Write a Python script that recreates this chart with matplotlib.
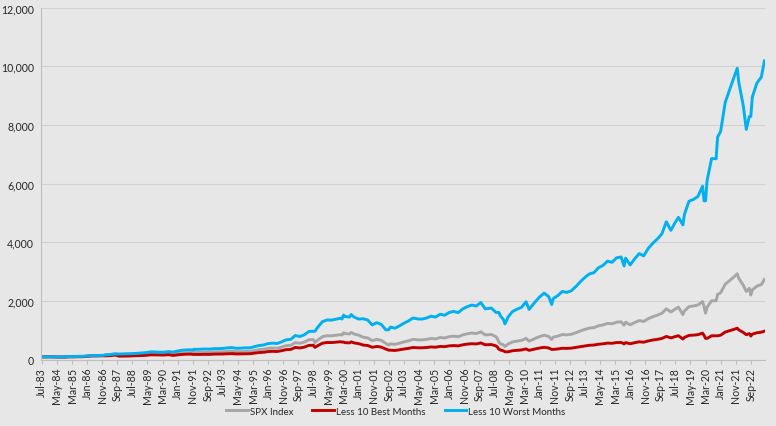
import matplotlib
matplotlib.use("Agg")
import matplotlib.pyplot as plt
from matplotlib.ticker import FuncFormatter
import pandas as pd

# month-end points, indexed to Jul-83 = 100
dates = [
    "1983-07", "1983-10", "1984-01", "1984-04", "1984-07", "1984-08", "1984-10",
    "1985-01", "1985-04", "1985-07", "1985-10", "1986-01", "1986-04", "1986-07",
    "1986-10", "1986-12", "1987-01", "1987-04", "1987-07", "1987-08", "1987-10",
    "1988-01", "1988-04", "1988-07", "1988-10", "1989-01", "1989-04", "1989-07",
    "1989-10", "1990-01", "1990-04", "1990-07", "1990-10", "1991-01", "1991-04",
    "1991-07", "1991-10", "1991-11", "1991-12", "1992-01", "1992-04", "1992-07",
    "1992-10", "1993-01", "1993-04", "1993-07", "1993-10", "1994-01", "1994-04",
    "1994-07", "1994-10", "1995-01", "1995-04", "1995-07", "1995-10", "1996-01",
    "1996-04", "1996-07", "1996-10", "1997-01", "1997-04", "1997-07", "1997-10",
    "1998-01", "1998-04", "1998-07", "1998-08", "1998-10", "1999-01", "1999-04",
    "1999-07", "1999-10", "2000-01", "2000-02", "2000-03", "2000-04", "2000-07",
    "2000-08", "2000-10", "2001-01", "2001-04", "2001-07", "2001-10", "2002-01",
    "2002-04", "2002-07", "2002-09", "2002-10", "2003-01", "2003-04", "2003-07",
    "2003-10", "2004-01", "2004-04", "2004-07", "2004-10", "2005-01", "2005-04",
    "2005-07", "2005-10", "2006-01", "2006-04", "2006-07", "2006-10", "2007-01",
    "2007-04", "2007-07", "2007-10", "2008-01", "2008-05", "2008-08", "2008-09",
    "2008-10", "2008-11", "2009-01", "2009-02", "2009-03", "2009-04", "2009-07",
    "2009-10", "2010-01", "2010-04", "2010-06", "2010-10", "2011-01", "2011-04",
    "2011-07", "2011-09", "2011-10", "2012-01", "2012-04", "2012-07", "2012-10",
    "2013-01", "2013-04", "2013-07", "2013-10", "2014-01", "2014-04", "2014-07",
    "2014-10", "2015-01", "2015-04", "2015-07", "2015-09", "2015-10", "2016-01",
    "2016-04", "2016-07", "2016-10", "2017-01", "2017-04", "2017-07", "2017-10",
    "2018-01", "2018-04", "2018-07", "2018-09", "2018-12", "2019-01", "2019-04",
    "2019-07", "2019-10", "2020-01", "2020-02", "2020-03", "2020-04", "2020-07",
    "2020-10", "2020-11", "2021-01", "2021-04", "2021-07", "2021-10", "2021-12",
    "2022-01", "2022-04", "2022-06", "2022-08", "2022-09", "2022-10", "2023-01",
    "2023-04", "2023-06",
]

spx = [
    100, 101, 101, 98, 93, 103, 102, 111, 111, 117, 117, 130, 145, 145,
    150, 149, 169, 177, 196, 203, 155, 158, 161, 167, 172, 183, 191, 213,
    209, 202, 204, 219, 187, 212, 231, 239, 241, 231, 257, 252, 255, 261,
    258, 270, 271, 276, 288, 296, 277, 282, 291, 289, 317, 346, 358, 391,
    402, 394, 434, 484, 493, 587, 563, 603, 684, 689, 589, 676, 787, 821,
    817, 838, 858, 841, 922, 894, 880, 934, 879, 840, 769, 745, 652, 695,
    663, 561, 502, 545, 526, 564, 609, 646, 696, 681, 678, 695, 727, 712,
    759, 743, 788, 806, 785, 848, 885, 912, 895, 953, 848, 862, 789, 718,
    596, 551, 508, 452, 491, 537, 608, 637, 661, 730, 634, 728, 791, 839,
    795, 696, 771, 807, 860, 849, 869, 922, 983, 1037, 1081, 1097, 1159, 1188,
    1241, 1227, 1283, 1294, 1181, 1279, 1194, 1271, 1337, 1308, 1402, 1467, 1520, 1584,
    1737, 1629, 1733, 1793, 1542, 1664, 1812, 1833, 1869, 1984, 1817, 1590, 1792, 2012,
    2012, 2228, 2285, 2572, 2704, 2833, 2932, 2778, 2542, 2329, 2433, 2206, 2382, 2508,
    2565, 2738,
]

less_best = [
    100, 101, 101, 98, 93, 93, 92, 100, 100, 106, 106, 118, 131, 131,
    136, 135, 135, 142, 157, 162, 124, 126, 128, 134, 137, 146, 152, 170,
    167, 162, 163, 175, 149, 169, 184, 191, 193, 184, 184, 181, 183, 188,
    185, 194, 195, 198, 207, 213, 199, 203, 209, 208, 227, 248, 257, 281,
    289, 283, 312, 347, 354, 422, 404, 433, 491, 495, 423, 486, 566, 590,
    587, 602, 616, 604, 604, 585, 576, 611, 576, 550, 503, 488, 427, 455,
    434, 367, 328, 329, 318, 340, 367, 390, 420, 411, 409, 419, 438, 429,
    458, 448, 475, 486, 474, 511, 534, 550, 540, 575, 512, 520, 476, 433,
    359, 333, 306, 273, 273, 273, 309, 324, 336, 371, 322, 370, 402, 426,
    404, 354, 354, 370, 394, 389, 398, 423, 451, 476, 496, 503, 531, 545,
    569, 563, 588, 593, 542, 587, 547, 583, 613, 600, 643, 673, 697, 726,
    797, 747, 794, 822, 707, 763, 831, 841, 857, 910, 833, 729, 729, 819,
    818, 818, 839, 945, 993, 1040, 1077, 1020, 933, 855, 894, 810, 875, 921,
    942, 975,
]

less_worst = [
    100, 101, 101, 98, 93, 103, 102, 111, 111, 117, 117, 130, 145, 145,
    150, 149, 169, 177, 196, 203, 198, 202, 206, 214, 220, 234, 244, 272,
    268, 259, 260, 280, 264, 299, 326, 337, 341, 326, 362, 355, 361, 369,
    364, 381, 382, 389, 406, 418, 392, 398, 410, 409, 447, 488, 505, 553,
    568, 556, 613, 683, 696, 829, 794, 851, 966, 973, 973, 1117, 1301, 1358,
    1351, 1386, 1418, 1390, 1524, 1477, 1455, 1543, 1454, 1389, 1399, 1356, 1187, 1265,
    1206, 1021, 1026, 1115, 1077, 1154, 1246, 1323, 1424, 1394, 1387, 1423, 1487, 1456,
    1553, 1519, 1611, 1650, 1607, 1734, 1810, 1866, 1832, 1950, 1735, 1763, 1615, 1614,
    1613, 1492, 1375, 1224, 1329, 1453, 1645, 1725, 1788, 1976, 1717, 1970, 2142, 2271,
    2152, 1884, 2087, 2185, 2328, 2297, 2352, 2495, 2660, 2807, 2925, 2969, 3137, 3215,
    3361, 3322, 3473, 3503, 3197, 3463, 3231, 3439, 3620, 3541, 3795, 3970, 4114, 4288,
    4702, 4410, 4690, 4853, 4596, 4957, 5400, 5464, 5568, 5913, 5416, 5416, 6102, 6854,
    6851, 7588, 7782, 8761, 9209, 9649, 9930, 9461, 8657, 7850, 8287, 8287, 8949, 9422,
    9636, 10180,
]

series_names = ["SPX Index", "Less 10 Best Months", "Less 10 Worst Months"]
series_colors = ["#A6A6A6", "#C00000", "#00B0F0"]

# category axis: one slot per month, Jul-83 .. Jun-23
months = pd.period_range("1983-07", "2023-06", freq="M")
month_labels = months.strftime("%b-%y")
start = pd.Period("1983-07", freq="M")
x = [(pd.Period(d, freq="M") - start).n for d in dates]

plt.rcParams["font.family"] = ["Lato", "DejaVu Sans"]
bg = "#E7E7E7"
txt = "#262626"
fig = plt.figure(figsize=(7.76, 4.27), dpi=100, facecolor=bg)
ax = fig.add_axes([0.053, 0.155, 0.933, 0.825], facecolor=bg)

for vals, name, col in zip([spx, less_best, less_worst], series_names, series_colors):
    ax.plot(x, vals, color=col, lw=2.1, label=name, solid_joinstyle="round")

ax.set_xlim(-0.5, len(months) - 0.5)
ax.set_ylim(0, 12000)
ax.set_yticks(range(0, 12001, 2000))
ax.yaxis.set_major_formatter(FuncFormatter(lambda v, p: f"{int(v):,}"))
ax.grid(axis="y", color="#D2D2D2", lw=0.8)
ax.set_axisbelow(True)

tick_pos = list(range(0, len(months), 10))
ax.set_xticks(tick_pos)
ax.set_xticklabels([month_labels[i] for i in tick_pos], rotation=90, fontsize=7.6, color=txt)
ax.tick_params(axis="x", length=3, color="#BFBFBF", pad=2)
ax.tick_params(axis="y", length=0, labelsize=7.6, labelcolor=txt, pad=5)

for s in ["top", "right"]:
    ax.spines[s].set_visible(False)
for s in ["left", "bottom"]:
    ax.spines[s].set_color("#BFBFBF")
    ax.spines[s].set_linewidth(0.8)

fig.legend(loc="center", bbox_to_anchor=(0.51, 0.035), ncol=3, frameon=False,
           fontsize=7, handlelength=2.2, handletextpad=0.2, columnspacing=2.0,
           labelcolor=txt)

fig.savefig("out.png", dpi=100, facecolor=bg)
